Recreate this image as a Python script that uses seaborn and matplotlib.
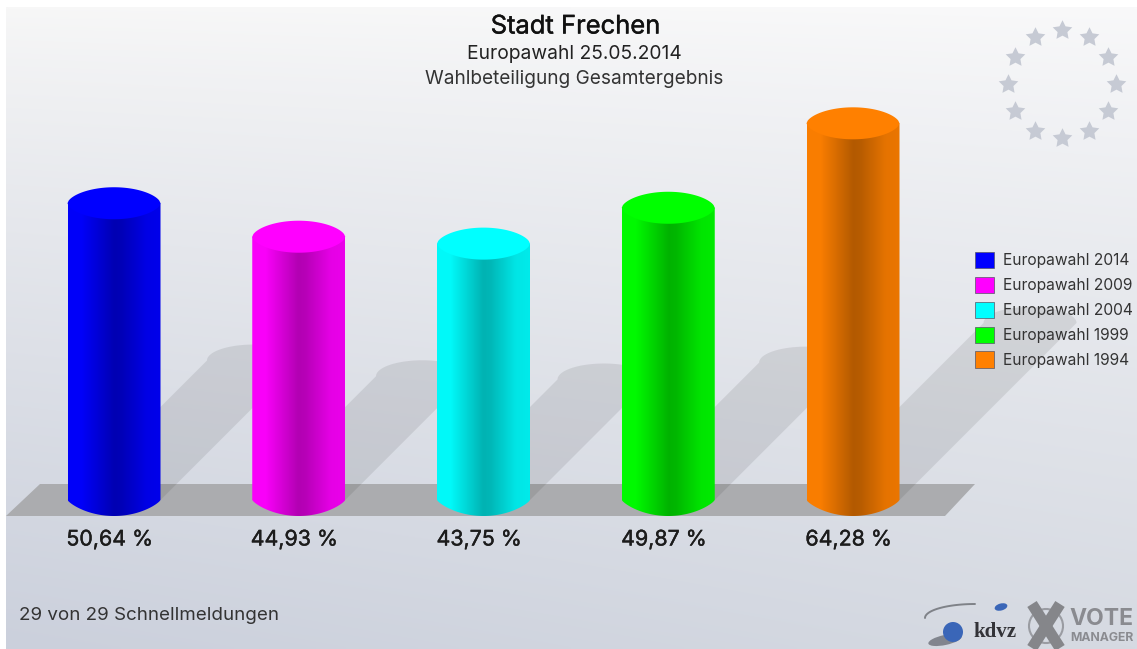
import numpy as np
import pandas as pd
import matplotlib
matplotlib.use("Agg")
import matplotlib.pyplot as plt
import matplotlib.patheffects as pe
from matplotlib.patches import Ellipse, Patch, Polygon, Circle
from matplotlib.path import Path
from matplotlib.colors import to_rgb
import seaborn as sns

elections = ["Europawahl 2014", "Europawahl 2009", "Europawahl 2004", "Europawahl 1999", "Europawahl 1994"]
turnout = [50.64, 44.93, 43.75, 49.87, 64.28]
colors = ["#0000ff", "#ff00ff", "#00ffff", "#00ff00", "#ff8000"]
title_lines = ["Stadt Frechen", "Europawahl 25.05.2014", "Wahlbeteiligung Gesamtergebnis"]
footer = "29 von 29 Schnellmeldungen"

W, H = 1137, 649
sns.set_theme(style="white")
plt.rcParams["font.family"] = ["Inter", "Liberation Sans", "DejaVu Sans"]
fig = plt.figure(figsize=(W / 100, H / 100), dpi=100, facecolor="white")

# pixel-space backdrop
bg = fig.add_axes([0, 0, 1, 1], zorder=0)
bg.set_xlim(0, W); bg.set_ylim(H, 0); bg.axis("off")
yy, xx = np.mgrid[0:1:160j, 0:1:200j]
ty = yy ** 0.85
tx = xx
left = np.outer(1 - ty[:, 0], to_rgb("#f7f7f7")) + np.outer(ty[:, 0], to_rgb("#cbd0dc"))
right = np.outer(1 - ty[:, 0], to_rgb("#f9f9fa")) + np.outer(ty[:, 0], to_rgb("#d6dae2"))
grad = left[:, None, :] * (1 - tx[..., None]) + right[:, None, :] * tx[..., None]
bg.imshow(grad, extent=(6, W, H, 7), aspect="auto", interpolation="bilinear", zorder=0)
bg.set_xlim(0, W); bg.set_ylim(H, 0)
bg.add_patch(Polygon([(6, 516), (40, 484), (975, 484), (945, 516)], closed=True, fc="#abacaf", ec="none", zorder=1))

# main axes: data scale maps category and turnout to pixel positions
ax = fig.add_axes([0, 0, 1, 1], zorder=2)
ax.patch.set_alpha(0)
x_step, y_step, x0, y0 = 184.75, 5.86, 114, 500
df = pd.DataFrame({"wahl": elections, "beteiligung": turnout})
sns.barplot(data=df, x="wahl", y="beteiligung", hue="wahl", hue_order=elections, order=elections,
            palette=colors, width=93 / x_step, saturation=1, legend=False, ax=ax)
xlim = (-x0 / x_step, (W - x0) / x_step)
ylim = ((y0 - H) / y_step, y0 / y_step)
ax.set_xlim(*xlim); ax.set_ylim(*ylim)
ax.axis("off")

b = 16 / y_step
bars = sorted(ax.patches, key=lambda p: p.get_x())
th = np.linspace(0, np.pi, 40)
uu = np.linspace(-1, 1, 80)
bulge_low = (1 - uu ** 2) ** 0.8
bulge_lid = (1 - uu ** 2) ** 0.6
for bar, col, val in zip(bars, colors, turnout):
    bx, bw = bar.get_x(), bar.get_width()
    cx = bx + bw / 2
    a = bw / 2
    bar.set_visible(False)
    # shadow
    d_px = 0.47 * val * y_step
    dx, dy = d_px / x_step, d_px / y_step
    arc = np.column_stack([cx + dx - a * np.cos(th), dy + b * np.sin(th)])
    pts = np.vstack([[[bx, 0]], arc, [[bx + bw, 0]]])
    ax.add_patch(Polygon(pts, closed=True, fc="black", ec="none", alpha=0.085, zorder=1))
    # cylinder body with horizontal shading
    rgb = np.array(to_rgb(col))
    u = np.linspace(0, 1, 128)
    shade = np.interp(u, [0, 0.14, 0.5, 0.58, 0.85, 1], [0.98, 0.98, 0.70, 0.72, 0.90, 0.92])
    img = (rgb[None, None, :] * shade[None, :, None])
    low = np.column_stack([cx - a * uu, -b * bulge_low])
    outline = np.vstack([[[bx, val]], [[bx + bw, val]], low, [[bx, val]]])
    im = ax.imshow(img, extent=(bx, bx + bw, -b, val), aspect="auto", interpolation="bilinear", zorder=3)
    clip = Polygon(outline, closed=True, transform=ax.transData, fc="none", ec="none")
    ax.add_patch(clip)
    im.set_clip_path(clip)
    # cylinder lid
    lid = np.vstack([np.column_stack([cx + a * uu, val + b * bulge_lid]),
                     np.column_stack([cx + a * uu[::-1], val - b * bulge_lid[::-1]])])
    ax.add_patch(Polygon(lid, closed=True, fc=col, ec="none", zorder=4))
    label = f"{val:.2f}".replace(".", ",") + " %"
    ax.text(cx - 4.5 / x_step, (y0 - 539.5) / y_step, label, ha="center", va="center", fontsize=15.4,
            color="#1c1c1c", zorder=5, path_effects=[pe.withStroke(linewidth=0.3, foreground="#1c1c1c")])
ax.set_xlim(*xlim); ax.set_ylim(*ylim)

# pixel-space overlay: titles, legend, logos
ov = fig.add_axes([0, 0, 1, 1], zorder=3)
ov.patch.set_alpha(0)
ov.set_xlim(0, W); ov.set_ylim(H, 0); ov.axis("off")
ov.text(575.5, 27, title_lines[0], ha="center", va="center", fontsize=18.4, color="#111111",
        path_effects=[pe.withStroke(linewidth=0.3, foreground="#111111")])
ov.text(574.5, 54, title_lines[1], ha="center", va="center", fontsize=13.85, color="#222222")
ov.text(574, 79, title_lines[2], ha="center", va="center", fontsize=13.7, color="#333333")
ov.text(19, 615, footer, ha="left", va="center", fontsize=13.5, color="#333333")

ang = np.deg2rad(np.arange(0, 360, 30))
star = Path.unit_regular_star(5, innerCircle=0.5)
ov.scatter(1061.5 + 54 * np.sin(ang), 84 - 54 * np.cos(ang), marker=star, s=220, c="#c6cad4", linewidths=0, zorder=2)

handles = [Patch(fc=c, ec="#555566", lw=0.5) for c in colors]
ov.legend(handles, elections, loc="upper left", bbox_to_anchor=(975, 252), bbox_transform=ov.transData,
          frameon=False, fontsize=11.2, borderpad=0, borderaxespad=0, handlelength=1.22, handleheight=1.22,
          labelspacing=0.55, handletextpad=0.58, labelcolor="#333333")

# logos
ov.add_patch(Ellipse((945, 640), 34, 10, angle=-12, fc="#666a72", ec="none", alpha=0.75))
ov.add_patch(Circle((953, 632), 10, fc="#3a66b8", ec="none"))
ov.add_patch(Ellipse((1001, 607), 13, 7, angle=-15, fc="#3a66b8", ec="none"))
t = np.linspace(0.5, 1.0, 30) * np.pi
ov.plot(975 + 50 * np.cos(t), 618 - 14 * np.sin(t), color="#7f8288", lw=1.4)
ov.text(995, 632, "kdvz", fontsize=15, fontweight="bold", family="Liberation Serif", color="#333338", ha="center", va="center")
ov.add_patch(Circle((1046, 626), 17, fc="none", ec="#9a9ca2", lw=1.5))
ov.plot([1032, 1060], [648, 604], color="#85868a", lw=8, solid_capstyle="butt")
ov.plot([1032, 1060], [604, 648], color="#85868a", lw=8, solid_capstyle="butt")
ov.text(1101.5, 619, "VOTE", fontsize=16.5, fontweight="bold", color="#8a8b90", ha="center", va="center")
ov.text(1101.5, 638, "MANAGER", fontsize=8.8, fontweight="bold", color="#8a8b90", ha="center", va="center")

fig.savefig("out.png", dpi=100, facecolor="white")
